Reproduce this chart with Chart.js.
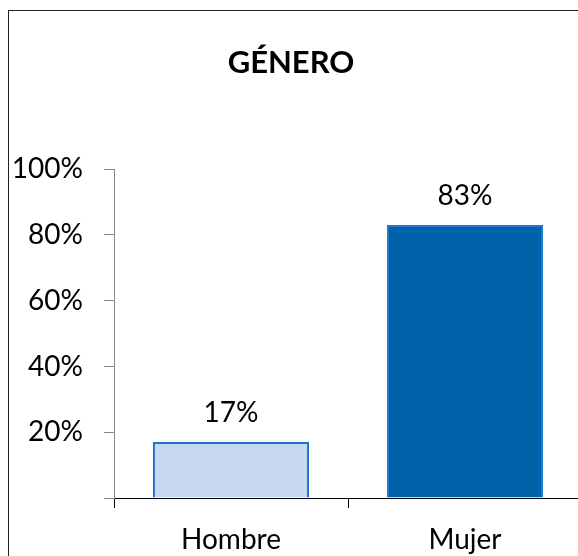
<!DOCTYPE html>
<html>
<head>
<meta charset="utf-8">
<script src="https://cdn.jsdelivr.net/npm/chart.js@4"></script>
<style>
  html, body { margin: 0; padding: 0; background: #fff; }
  #wrap { position: relative; width: 578px; height: 556px; overflow: hidden; }
  #frame { position: absolute; left: 8px; top: 10px; width: 620px; height: 600px; border: 1px solid #222; box-sizing: border-box; }
  #box { position: absolute; left: 0; top: 0; width: 600px; height: 556px; }
</style>
</head>
<body>
<div id="wrap">
  <div id="frame"></div>
  <div id="box"><canvas id="genero"></canvas></div>
</div>
<script>
// Datos del gráfico
const categorias = ['Hombre', 'Mujer'];
const valores = [0.17, 0.83];
const colorRelleno = ['#c6d9f1', '#0062a8'];
const colorBorde = ['#1f72c9', '#1b77d0'];
const titulo = 'GÉNERO';

const FUENTE = 'Lato, "DejaVu Sans", sans-serif';

// Etiquetas de porcentaje encima de las barras
const etiquetasBarras = {
  id: 'etiquetasBarras',
  afterDatasetsDraw(chart) {
    const ctx = chart.ctx;
    const meta = chart.getDatasetMeta(0);
    ctx.save();
    ctx.font = '28px ' + FUENTE;
    ctx.fillStyle = '#000';
    ctx.textAlign = 'center';
    ctx.textBaseline = 'middle';
    meta.data.forEach((bar, i) => {
      ctx.fillText(Math.round(valores[i] * 100) + '%', bar.x, bar.y - 29);
    });
    ctx.restore();
  }
};

new Chart(document.getElementById('genero').getContext('2d'), {
  type: 'bar',
  data: {
    labels: categorias,
    datasets: [{
      data: valores,
      backgroundColor: colorRelleno,
      borderColor: colorBorde,
      borderWidth: 2,
      barPercentage: 0.667,
      categoryPercentage: 1
    }]
  },
  options: {
    responsive: true,
    maintainAspectRatio: false,
    animation: false,
    layout: { padding: { left: 0, right: 18, top: 0, bottom: 0 } },
    plugins: {
      legend: { display: false },
      tooltip: { enabled: false },
      title: {
        display: true,
        text: titulo,
        color: '#000',
        font: { family: FUENTE, size: 31, weight: 'bold' },
        padding: { top: 44, bottom: 88 }
      }
    },
    scales: {
      x: {
        grid: { offset: true, drawOnChartArea: false, drawTicks: true, tickLength: 10, color: '#000' },
        border: { color: '#000', width: 1 },
        ticks: { color: '#000', padding: 15, font: { family: FUENTE, size: 28 } },
        afterFit: s => { s.height = 58; }
      },
      y: {
        min: 0,
        max: 1,
        grid: { drawOnChartArea: false, drawTicks: true, tickLength: 10, color: '#868686' },
        border: { color: '#868686', width: 1 },
        ticks: {
          stepSize: 0.2,
          color: '#000',
          padding: 21,
          font: { family: FUENTE, size: 28 },
          callback: v => v === 0 ? '' : Math.round(v * 100) + '%'
        },
        afterFit: s => { s.width = 114; }
      }
    }
  },
  plugins: [etiquetasBarras]
});
</script>
</body>
</html>
